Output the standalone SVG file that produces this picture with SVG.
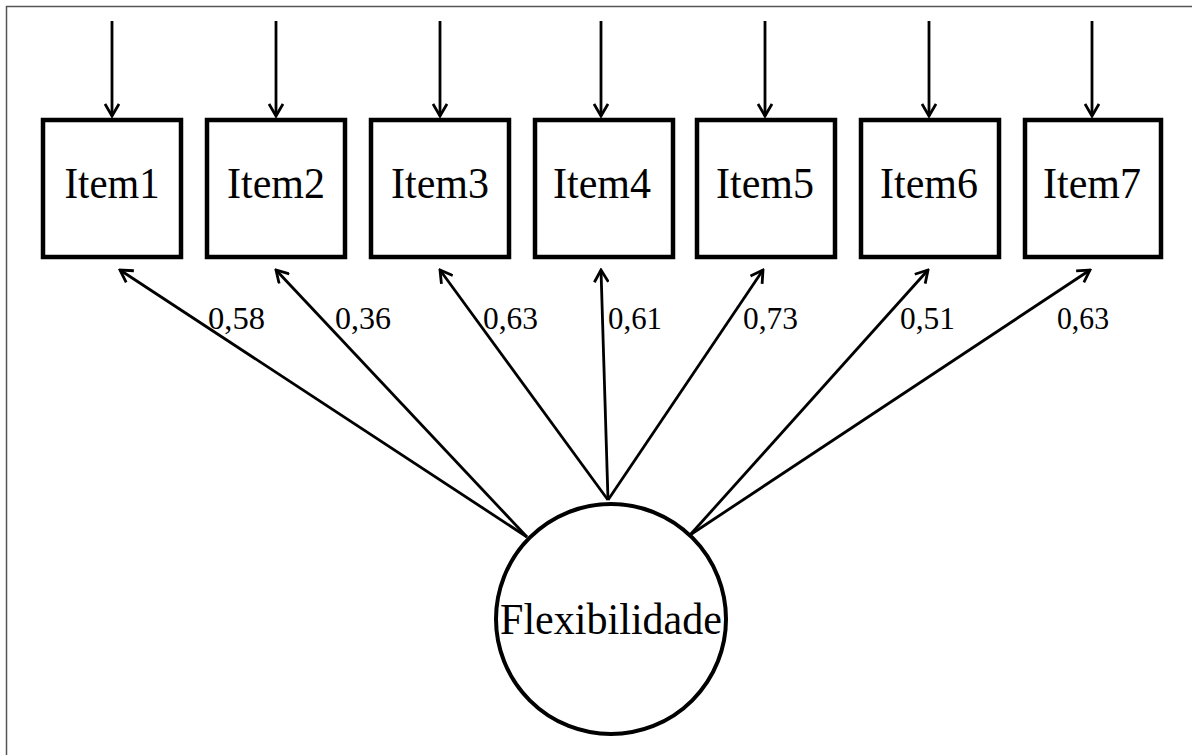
<svg xmlns="http://www.w3.org/2000/svg" width="1192" height="755" viewBox="0 0 1192 755">
<style>
.box{fill:#fff;stroke:#000;stroke-width:4.5}
.lat{fill:#fff;stroke:#000;stroke-width:4}
.item{font-family:"Liberation Serif","Times New Roman",serif;font-size:45px;fill:#000;text-anchor:middle}
.lbl{font-family:"Liberation Serif","Times New Roman",serif;font-size:31px;fill:#000}
.con line{stroke:#000;stroke-width:2.8;fill:none;marker-end:url(#ah)}
</style>
<defs>
<marker id="ah" viewBox="0 0 16 16" refX="14" refY="8" markerWidth="16" markerHeight="16" markerUnits="userSpaceOnUse" orient="auto">
<path d="M2,1 L14,8 L2,15" fill="none" stroke="#000" stroke-width="2.8"/>
</marker>
</defs>
<rect width="1192" height="755" fill="#fff"/>
<path d="M6.5,755 V6.5 H1192" fill="none" stroke="#555" stroke-width="1.5"/>
<g id="connectors" class="con">
<line x1="112" y1="21" x2="112" y2="116"/>
<line x1="276" y1="21" x2="276" y2="116"/>
<line x1="440" y1="21" x2="440" y2="116"/>
<line x1="601" y1="21" x2="601" y2="116"/>
<line x1="765" y1="21" x2="765" y2="116"/>
<line x1="929" y1="21" x2="929" y2="116"/>
<line x1="1092" y1="21" x2="1092" y2="116"/>
<line x1="527" y1="537" x2="120" y2="270"/>
<line x1="527" y1="537" x2="276" y2="270"/>
<line x1="608" y1="500" x2="440" y2="270"/>
<line x1="608" y1="500" x2="601" y2="270"/>
<line x1="608" y1="500" x2="763" y2="270"/>
<line x1="690" y1="535" x2="928" y2="270"/>
<line x1="690" y1="535" x2="1090" y2="270"/>
</g>
<g id="item1"><rect class="box" x="43" y="120" width="138" height="137"/><text class="item" x="112" y="198" textLength="95" lengthAdjust="spacingAndGlyphs">Item1</text></g>
<g id="item2"><rect class="box" x="207" y="120" width="138" height="137"/><text class="item" x="276" y="198" textLength="98" lengthAdjust="spacingAndGlyphs">Item2</text></g>
<g id="item3"><rect class="box" x="371" y="120" width="138" height="137"/><text class="item" x="440" y="198" textLength="98" lengthAdjust="spacingAndGlyphs">Item3</text></g>
<g id="item4"><rect class="box" x="535" y="120" width="138" height="137"/><text class="item" x="602" y="198" textLength="98" lengthAdjust="spacingAndGlyphs">Item4</text></g>
<g id="item5"><rect class="box" x="697" y="120" width="138" height="137"/><text class="item" x="765" y="198" textLength="98" lengthAdjust="spacingAndGlyphs">Item5</text></g>
<g id="item6"><rect class="box" x="861" y="120" width="138" height="137"/><text class="item" x="929" y="198" textLength="98" lengthAdjust="spacingAndGlyphs">Item6</text></g>
<g id="item7"><rect class="box" x="1025" y="120" width="136" height="137"/><text class="item" x="1092" y="198" textLength="98" lengthAdjust="spacingAndGlyphs">Item7</text></g>
<g id="flexibilidade"><circle class="lat" cx="611" cy="619" r="115"/><text class="item" x="611" y="634" textLength="222" lengthAdjust="spacingAndGlyphs">Flexibilidade</text></g>
<g id="labels">
<text class="lbl" x="208" y="329" textLength="57" lengthAdjust="spacingAndGlyphs">0,58</text>
<text class="lbl" x="335" y="329" textLength="56" lengthAdjust="spacingAndGlyphs">0,36</text>
<text class="lbl" x="483" y="329" textLength="55" lengthAdjust="spacingAndGlyphs">0,63</text>
<text class="lbl" x="608" y="329" textLength="54" lengthAdjust="spacingAndGlyphs">0,61</text>
<text class="lbl" x="743" y="329" textLength="55" lengthAdjust="spacingAndGlyphs">0,73</text>
<text class="lbl" x="900" y="329" textLength="55" lengthAdjust="spacingAndGlyphs">0,51</text>
<text class="lbl" x="1057" y="329" textLength="52" lengthAdjust="spacingAndGlyphs">0,63</text>
</g>
</svg>
